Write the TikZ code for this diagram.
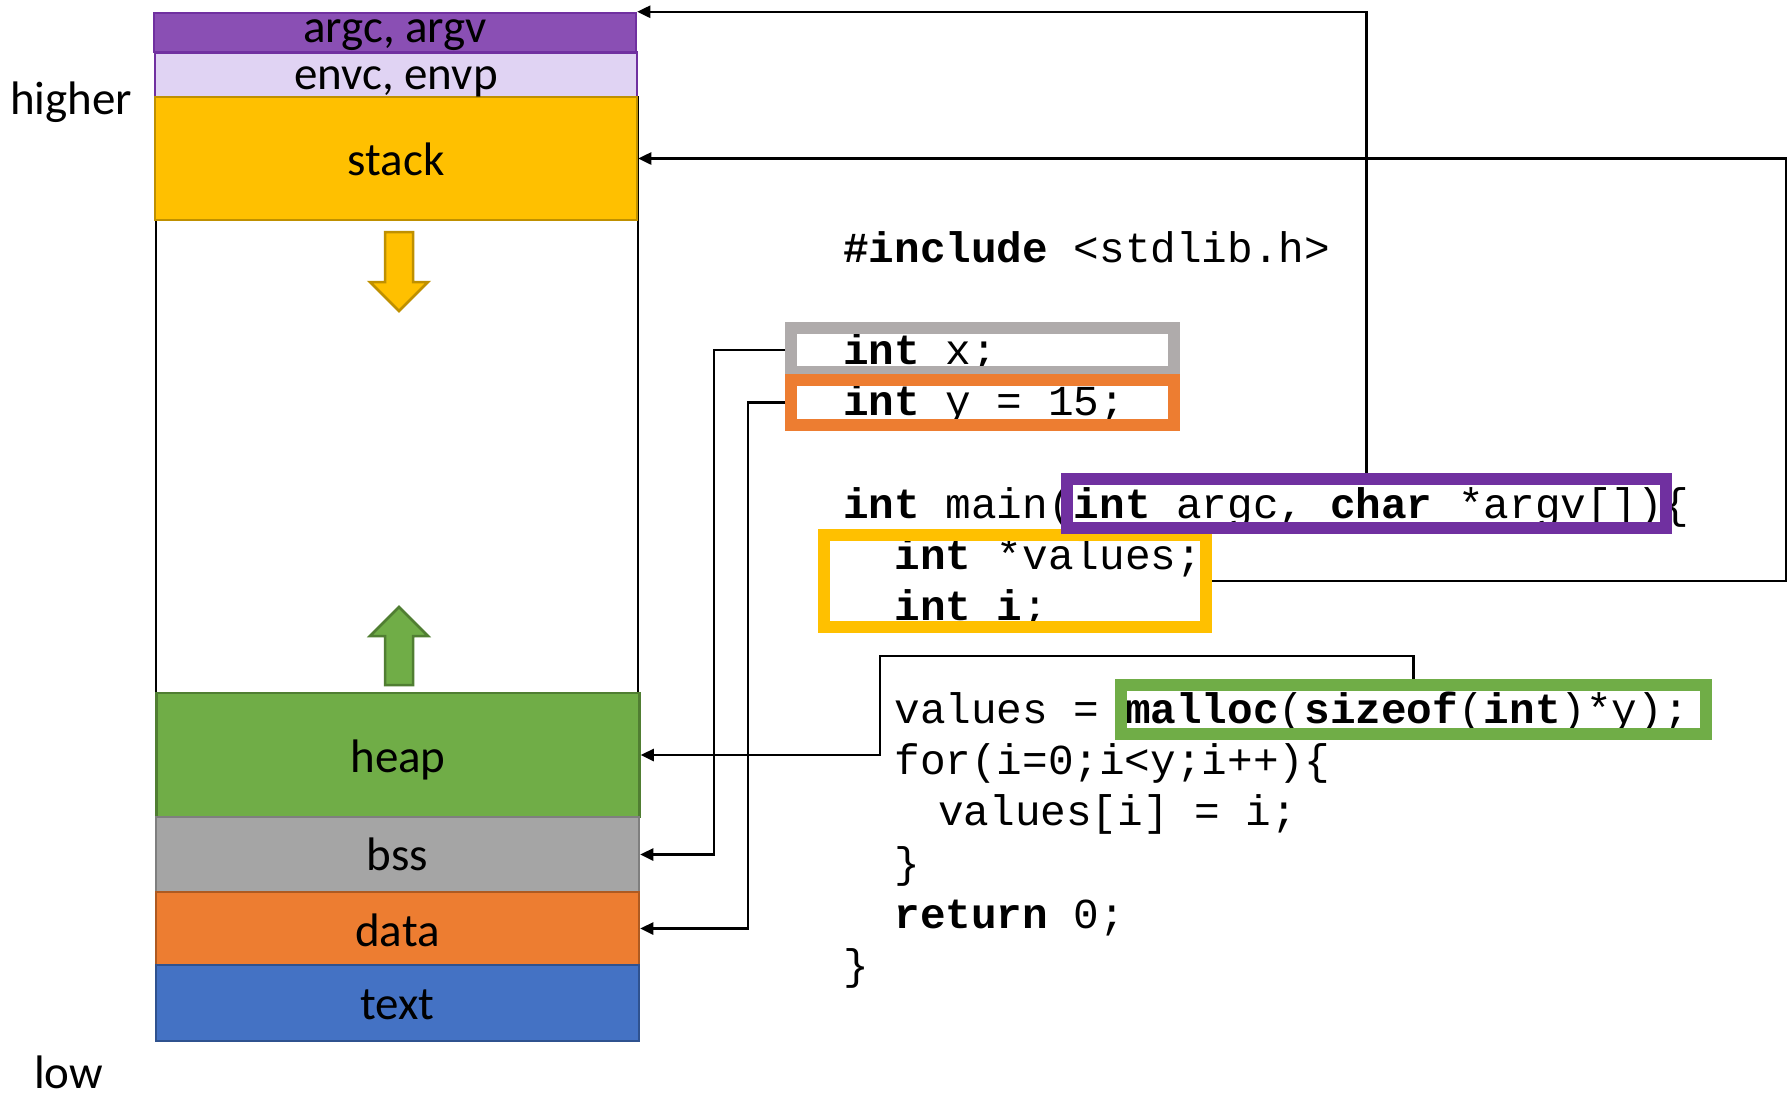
\documentclass[tikz,border=0pt]{standalone}
\usepackage{fontspec}
\setmainfont{Carlito}
\newfontfamily\codefont{Liberation Mono}
\usetikzlibrary{arrows.meta}
\definecolor{cargc}{HTML}{8A4FB4}
\definecolor{cpurple}{HTML}{7030A0}
\definecolor{cenv}{HTML}{E0D3F3}
\definecolor{cyellow}{HTML}{FFC000}
\definecolor{cyellowd}{HTML}{BF9000}
\definecolor{cgreen}{HTML}{70AD47}
\definecolor{cgreend}{HTML}{507E32}
\definecolor{cgray}{HTML}{A5A5A5}
\definecolor{cgrayd}{HTML}{7F7F7F}
\definecolor{corange}{HTML}{ED7D31}
\definecolor{corange d}{HTML}{AE5A21}
\definecolor{cblue}{HTML}{4472C4}
\definecolor{cblued}{HTML}{2F528F}
\definecolor{cgraybox}{HTML}{AFABAB}
\tikzset{
  seg/.style={draw, line width=2.5pt, inner sep=0pt, outer sep=1.25pt, minimum width=482pt},
  memlabel/.style={inner sep=0pt, anchor=base, font=\fontsize{47}{56}\selectfont},
  code/.style={inner sep=0pt, anchor=base west, font=\codefont\fontsize{42.7}{51}\selectfont},
  hbox/.style={draw, line width=12pt, inner sep=0pt, outer sep=6pt},
  conn/.style={line width=2.5pt, -{Triangle[length=13pt,width=12pt]}},
  blockarrow/.style={line width=2.5pt, line join=miter}
}
\begin{document}
\begin{tikzpicture}[x=1pt,y=-1pt]
\fill[white] (0,0) rectangle (1789,1098);
\useasboundingbox (0,0) rectangle (1789,1098);

% memory frame
\node[draw, line width=2pt, inner sep=0pt, minimum width=482pt, minimum height=720pt] (memframe) at (397,457) {};

% segments
\node[seg, fill=cargc, draw=cpurple, minimum height=39pt] (argc) at (395,32.5) {};
\node[seg, fill=cenv, draw=cpurple, minimum height=44.5pt] (envc) at (396,74.5) {};
\node[seg, fill=cyellow, draw=cyellowd, minimum height=123pt] (stack) at (396,158.5) {};
\node[seg, fill=cgreen, draw=cgreend, minimum height=124pt, minimum width=483pt] (heap) at (398,755) {};
\node[seg, fill=cgray, draw=cgrayd, minimum height=75pt, minimum width=483pt] (bss) at (397.5,854.5) {};
\node[seg, fill=corange, draw=corange d, minimum height=73pt, minimum width=483pt] (data) at (397.5,928.5) {};
\node[seg, fill=cblue, draw=cblued, minimum height=76pt, minimum width=483pt] (text) at (397.5,1003) {};

% labels
\node[memlabel] (largc) at (395,42) {argc, argv};
\node[memlabel] (lenvc) at (396,89) {envc, envp};
\node[memlabel] (lstack) at (396,175) {stack};
\node[memlabel] (lheap) at (398,772) {heap};
\node[memlabel] (lbss) at (397.5,870) {bss};
\node[memlabel] (ldata) at (397.5,946) {data};
\node[memlabel] (ltext) at (397.5,1019) {text};
\node[memlabel, anchor=base west] (lhigher) at (10,114) {higher};
\node[memlabel, anchor=base west] (llow) at (34,1088) {low};

% growth arrows
\draw[blockarrow, fill=cyellow, draw=cyellowd] (385,232) -- (413,232) -- (413,282) -- (428,282) -- (399,311) -- (370,282) -- (385,282) -- cycle;
\draw[blockarrow, fill=cgreen, draw=cgreend] (385,685) -- (413,685) -- (413,636) -- (428,636) -- (399,607) -- (370,636) -- (385,636) -- cycle;

% code
\node[code] (c0) at (843,262.5) {{\bfseries \#include} <stdlib.h>};
\node[code] (c2) at (843,364.5) {{\bfseries int} x;};
\node[code] (c3) at (843,415.5) {{\bfseries int} y = 15;};
\node[code] (c5) at (843,518) {{\bfseries int} main({\bfseries int} argc, {\bfseries char} *argv[])\{};
\node[code] (c6) at (894.2,569.5) {{\bfseries int} *values;};
\node[code] (c7) at (894.2,620.5) {{\bfseries int i};};
\node[code] (c9) at (894.2,723) {values = {\bfseries malloc}({\bfseries sizeof}({\bfseries int})*y);};
\node[code] (c10) at (894.2,774.5) {for(i=0;i<y;i++)\{};
\node[code] (c11) at (938,825.5) {values[i] = i;};
\node[code] (c12) at (894.2,877) {\}};
\node[code] (c13) at (894.2,928) {{\bfseries return} 0;};
\node[code] (c14) at (843,979.5) {\}};

% highlight boxes
\node[hbox, draw=cgraybox, minimum width=383pt, minimum height=44pt] (xbox) at (982.5,350) {};
\node[hbox, draw=corange, minimum width=383pt, minimum height=45pt] (ybox) at (982.5,402.5) {};
\node[hbox, draw=cyellow, minimum width=382pt, minimum height=92pt] (lbox) at (1015,581) {};
\node[hbox, draw=cpurple, minimum width=599pt, minimum height=49pt] (pbox) at (1366.5,503.5) {};
\node[hbox, draw=cgreen, minimum width=585pt, minimum height=49pt] (gbox) at (1413.5,709.5) {};

% connector bend points
\coordinate (rc) at (1786,581);
\coordinate (hc) at (880,656);
\coordinate (bc) at (714,600);
\coordinate (dc) at (748,600);

% connectors
\draw[conn] (pbox.north) |- (argc.north east);
\draw[conn] (lbox.east) -- (rc) |- (stack.east);
\draw[conn] (gbox.north) |- (hc) |- (heap.east);
\draw[conn] (xbox.west) -| (bc) |- (bss.east);
\draw[conn] (ybox.west) -| (dc) |- (data.east);
\end{tikzpicture}
\end{document}
